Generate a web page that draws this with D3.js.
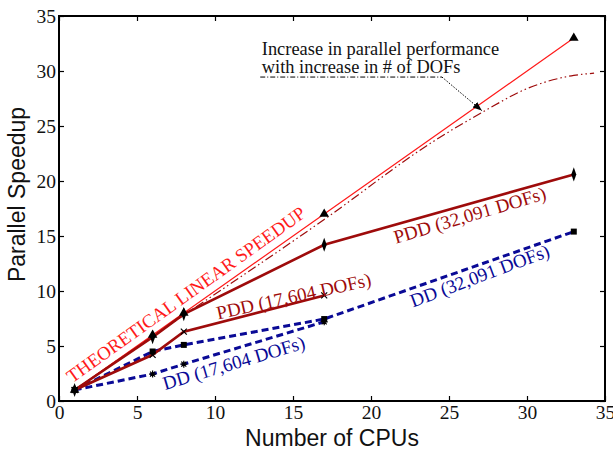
<!DOCTYPE html>
<html>
<head>
<meta charset="utf-8">
<script src="https://cdn.jsdelivr.net/npm/d3@7"></script>
<style>
  body { margin: 0; background: #fff; }
  svg text { font-family: "Liberation Serif", "Times New Roman", serif; }
</style>
</head>
<body>
<div id="chart"></div>
<script>
let width = 613, height = 451;
let margin = ({top: 16, right: 8, bottom: 50, left: 59});

// data
let cpus = [1, 6, 8, 17, 33];
let theoretical = [1, 6, 8, 17, 33];
let pdd32 = [1, 5.8, 7.9, 14.2, 20.6];
let pdd17 = [1, 4.2, 6.3, 9.6];
let dd32 = [1, 4.5, 5.1, 7.45, 15.4];
let dd17 = [1, 2.45, 3.35, 7.2];
let trendX = [1, 6, 8, 17, 24, 27.2, 30, 33, 34.3];
let trendY = [1, 5.9, 7.8, 16.5, 23.6, 26.3, 28.4, 29.6, 29.8];
let xTicks = [0, 5, 10, 15, 20, 25, 30, 35];
let yTicks = [0, 5, 10, 15, 20, 25, 30, 35];

let red = "#ff1a1a", darkRed = "#9e0b0b", navy = "#0a0a96";

let x = d3.scaleLinear().domain([0, 35]).range([margin.left, width - margin.right]);
let y = d3.scaleLinear().domain([0, 35]).range([height - margin.bottom, margin.top]);

let svg = d3.select("#chart").append("svg")
    .attr("width", width).attr("height", height);

// axes with inward ticks on all four sides
let axisStyle = g => {
    g.select(".domain").remove();
    g.selectAll("line").attr("stroke", "#000").attr("stroke-width", 1.2);
    g.selectAll("text").attr("fill", "#111").style("font-size", "19.5px")
        .style("font-family", "'Liberation Serif', serif");
};
svg.append("g").attr("transform", `translate(0,${y(0)})`)
    .call(d3.axisBottom(x).tickValues(xTicks).tickSize(-5).tickPadding(4))
    .call(axisStyle);
svg.append("g").attr("transform", `translate(${x(0)},0)`)
    .call(d3.axisLeft(y).tickValues(yTicks).tickSize(-5).tickPadding(3))
    .call(axisStyle);
svg.append("g").attr("transform", `translate(0,${y(35)})`)
    .call(d3.axisTop(x).tickValues(xTicks).tickSize(-5).tickFormat(""))
    .call(axisStyle);
svg.append("g").attr("transform", `translate(${x(35)},0)`)
    .call(d3.axisRight(y).tickValues(yTicks).tickSize(-5).tickFormat(""))
    .call(axisStyle);

svg.append("rect")
    .attr("x", x(0)).attr("y", y(35))
    .attr("width", x(35) - x(0)).attr("height", y(0) - y(35))
    .attr("fill", "none").attr("stroke", "#000").attr("stroke-width", 2);

let line = d3.line().x(d => x(d[0])).y(d => y(d[1]));
let zip = (xs, ys) => ys.map((v, i) => [xs[i], v]);

// trend curve (dash-dot-dot)
svg.append("path")
    .datum(zip(trendX, trendY))
    .attr("d", line.curve(d3.curveMonotoneX))
    .attr("fill", "none").attr("stroke", darkRed).attr("stroke-width", 1.2)
    .attr("stroke-dasharray", "9,3,1.5,3,1.5,3");
line.curve(d3.curveLinear);

let series = [
    {vals: theoretical, color: red, w: 1.2, dash: null},
    {vals: dd17, color: navy, w: 3, dash: "7,4"},
    {vals: dd32, color: navy, w: 3, dash: "7,4"},
    {vals: pdd17, color: darkRed, w: 2.6, dash: null},
    {vals: pdd32, color: darkRed, w: 2.6, dash: null}
];
series.forEach(s => {
    svg.append("path")
        .datum(zip(cpus, s.vals))
        .attr("d", line)
        .attr("fill", "none").attr("stroke", s.color)
        .attr("stroke-width", s.w)
        .attr("stroke-dasharray", s.dash);
});

// markers
let cross = "M-3,-3L3,3M-3,3L3,-3";
let star = "M-3.5,0L3.5,0M0,-3.5L0,3.5M-2.5,-2.5L2.5,2.5M-2.5,2.5L2.5,-2.5";
let addMarkers = (vals, shape) => {
    let g = svg.append("g");
    let pts = zip(cpus, vals);
    if (shape === "cross" || shape === "star") {
        g.selectAll("path").data(pts).join("path")
            .attr("transform", d => `translate(${x(d[0])},${y(d[1])})`)
            .attr("d", shape === "cross" ? cross : star)
            .attr("stroke", "#000").attr("stroke-width", 1.2).attr("fill", "none");
    } else {
        let sym = {tri: d3.symbolTriangle, dia: d3.symbolDiamond, sq: d3.symbolSquare}[shape];
        let size = {tri: 40, dia: 34, sq: 36}[shape];
        g.selectAll("path").data(pts).join("path")
            .attr("transform", d => `translate(${x(d[0])},${y(d[1])})` + (shape === "dia" ? " scale(0.8,1.3)" : ""))
            .attr("d", d3.symbol().type(sym).size(size))
            .attr("fill", "#000");
    }
};
addMarkers(theoretical, "tri");
addMarkers(dd17, "star");
addMarkers(dd32, "sq");
addMarkers(pdd17, "cross");
addMarkers(pdd32, "dia");

// rotated series labels
let labels = [
    {t: "THEORETICAL LINEAR SPEEDUP", c: red, at: [0.85, 1.6], a: -35.5, s: 18.8},
    {t: "PDD (32,091 DOFs)", c: darkRed, at: [21.6, 14.3], a: -16.5, s: 19},
    {t: "PDD (17,604 DOFs)", c: darkRed, at: [10.2, 7.4], a: -12.5, s: 19},
    {t: "DD (32,091 DOFs)", c: navy, at: [22.7, 8.5], a: -20.5, s: 19},
    {t: "DD (17,604 DOFs)", c: navy, at: [6.8, 1.0], a: -16.5, s: 19}
];
svg.append("g").selectAll("text").data(labels).join("text")
    .attr("transform", d => `translate(${x(d.at[0])},${y(d.at[1])}) rotate(${d.a})`)
    .attr("fill", d => d.c).style("font-size", d => d.s + "px")
    .text(d => d.t);

// annotation
let note = svg.append("g");
note.append("text").attr("x", x(13.0)).attr("y", y(31.5))
    .style("font-size", "18.4px").attr("fill", "#111")
    .text("Increase in parallel performance");
note.append("text").attr("x", x(13.0)).attr("y", y(29.8))
    .style("font-size", "18.4px").attr("fill", "#111")
    .text("with increase in # of DOFs");
note.append("line")
    .attr("x1", x(12.9)).attr("x2", x(24.55)).attr("y1", y(29.45)).attr("y2", y(29.45))
    .attr("stroke", "#000").attr("stroke-width", 1).attr("stroke-dasharray", "5,2,1,2");
svg.append("defs").append("marker")
    .attr("id", "arrow").attr("viewBox", "0 0 10 10").attr("refX", 10).attr("refY", 5)
    .attr("markerWidth", 9).attr("markerHeight", 9).attr("orient", "auto")
    .attr("markerUnits", "userSpaceOnUse")
    .append("path").attr("d", "M0,1L10,5L0,9Z").attr("fill", "#000");
note.append("line")
    .attr("x1", x(24.55)).attr("y1", y(29.45)).attr("x2", x(27.1)).attr("y2", y(26.4))
    .attr("stroke", "#000").attr("stroke-width", 1).attr("stroke-dasharray", "1.5,1.5")
    .attr("marker-end", "url(#arrow)");

// axis titles
svg.append("text")
    .attr("x", x(17.5)).attr("y", 446)
    .attr("text-anchor", "middle")
    .style("font-family", "'Liberation Sans', Arial, sans-serif").style("font-size", "23px")
    .attr("fill", "#111")
    .text("Number of CPUs");
svg.append("text")
    .attr("transform", `translate(25,${y(17.5) - 14}) rotate(-90)`)
    .attr("text-anchor", "middle")
    .style("font-family", "'Liberation Sans', Arial, sans-serif").style("font-size", "23px")
    .attr("fill", "#111")
    .text("Parallel Speedup");
</script>
</body>
</html>
